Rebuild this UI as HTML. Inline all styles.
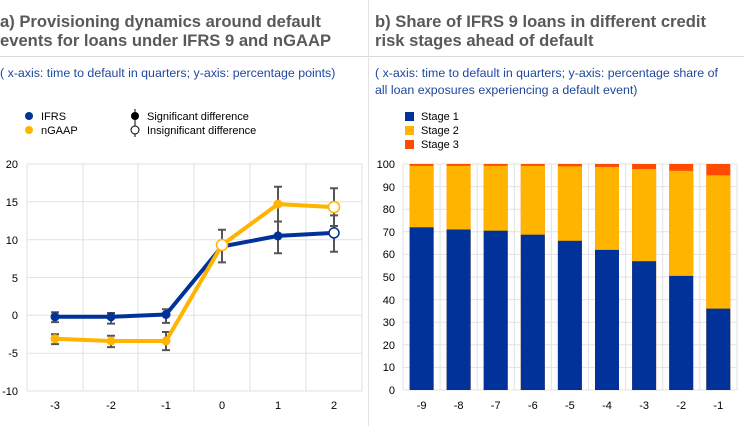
<!DOCTYPE html>
<html><head><meta charset="utf-8"><style>
html,body{margin:0;padding:0;background:#fff;width:744px;height:426px;overflow:hidden}
svg{display:block;font-family:"Liberation Sans",Arial,sans-serif}
</style></head><body>
<svg width="744" height="426" viewBox="0 0 744 426">
<text x="0" y="27" font-size="16.6" font-weight="bold" fill="#595959">a) Provisioning dynamics around default</text>
<text x="0" y="46" font-size="16.6" font-weight="bold" fill="#595959">events for loans under IFRS 9 and nGAAP</text>
<text x="375" y="27" font-size="16.6" font-weight="bold" fill="#595959">b) Share of IFRS 9 loans in different credit</text>
<text x="375" y="46" font-size="16.6" font-weight="bold" fill="#595959">risk stages ahead of default</text>
<line x1="0" y1="56.5" x2="744" y2="56.5" stroke="#d9d9d9"/>
<line x1="368.5" y1="0" x2="368.5" y2="426" stroke="#e3e3e3"/>
<text x="0" y="77" font-size="12.4" fill="#1f47a0">( x-axis: time to default in quarters; y-axis: percentage points)</text>
<text x="375" y="77" font-size="12.4" fill="#1f47a0">( x-axis: time to default in quarters; y-axis: percentage share of</text>
<text x="375" y="94" font-size="12.4" fill="#1f47a0">all loan exposures experiencing a default event)</text>
<!-- left legend -->
<circle cx="29" cy="116" r="4" fill="#003299"/><text x="41" y="120" font-size="11" fill="#000">IFRS</text>
<circle cx="29" cy="130" r="4" fill="#ffb400"/><text x="41" y="134" font-size="11" fill="#000">nGAAP</text>
<line x1="135" y1="109" x2="135" y2="123" stroke="#000"/><circle cx="135" cy="116" r="4" fill="#000"/>
<text x="147" y="120" font-size="11">Significant difference</text>
<line x1="135" y1="123" x2="135" y2="137" stroke="#000"/><circle cx="135" cy="130" r="4" fill="#fff" stroke="#000"/>
<text x="147" y="134" font-size="11">Insignificant difference</text>
<!-- right legend -->
<rect x="405" y="112" width="9" height="9" fill="#003299"/><text x="421" y="120" font-size="11">Stage 1</text>
<rect x="405" y="126" width="9" height="9" fill="#ffb400"/><text x="421" y="134" font-size="11">Stage 2</text>
<rect x="405" y="140" width="9" height="9" fill="#ff4b00"/><text x="421" y="148" font-size="11">Stage 3</text>
<!-- left grid -->
<g stroke="#e2e2e2" stroke-width="1">
<line x1="27" y1="164" x2="362" y2="164"/><line x1="27" y1="201.8" x2="362" y2="201.8"/><line x1="27" y1="239.7" x2="362" y2="239.7"/><line x1="27" y1="277.5" x2="362" y2="277.5"/><line x1="27" y1="315.3" x2="362" y2="315.3"/><line x1="27" y1="353.2" x2="362" y2="353.2"/><line x1="27" y1="391" x2="362" y2="391"/>
<line x1="27" y1="164" x2="27" y2="391"/><line x1="83" y1="164" x2="83" y2="391"/><line x1="138" y1="164" x2="138" y2="391"/><line x1="194" y1="164" x2="194" y2="391"/><line x1="250" y1="164" x2="250" y2="391"/><line x1="306" y1="164" x2="306" y2="391"/><line x1="362" y1="164" x2="362" y2="391"/>
</g>
<g font-size="11" text-anchor="end" fill="#000">
<text x="18" y="168">20</text><text x="18" y="206">15</text><text x="18" y="244">10</text><text x="18" y="282">5</text><text x="18" y="319">0</text><text x="18" y="357">-5</text><text x="18" y="395">-10</text>
</g>
<g font-size="11" text-anchor="middle">
<text x="55" y="409">-3</text><text x="111" y="409">-2</text><text x="166" y="409">-1</text><text x="222" y="409">0</text><text x="278" y="409">1</text><text x="334" y="409">2</text>
</g>
<!-- error bars -->
<g stroke="#555" stroke-width="2" fill="none">
<path d="M55 322.1V312.3M51 322.1h8M51 312.3h8"/>
<path d="M111 323.6V313M107 323.6h8M107 313h8"/>
<path d="M166 322.9V309.3M162 322.9h8M162 309.3h8"/>
<path d="M222 262.4V229.8M218 262.4h8M218 229.8h8"/>
<path d="M278 253.3V221.5M274 253.3h8M274 221.5h8"/>
<path d="M334 251.8V215.4M330 251.8h8M330 215.4h8"/>
<path d="M55 344.1V334.2M51 344.1h8M51 334.2h8"/>
<path d="M111 347.1V335.7M107 347.1h8M107 335.7h8"/>
<path d="M166 350.1V332M162 350.1h8M162 332h8"/>
<path d="M278 221.5V186.7M274 186.7h8"/>
<path d="M334 226V188.2M330 226h8M330 188.2h8"/>
</g>
<polyline points="55,316.8 111,316.8 166,314.5 222,246.5 278,235.9 334,232.9" fill="none" stroke="#003299" stroke-width="4" stroke-linejoin="round"/>
<polyline points="55,338.8 111,341 166,341 222,245 278,204.1 334,207.1" fill="none" stroke="#ffb400" stroke-width="4" stroke-linejoin="round"/>
<g fill="#003299"><circle cx="55" cy="316.8" r="4.5"/><circle cx="111" cy="316.8" r="4.5"/><circle cx="166" cy="314.5" r="4.5"/><circle cx="278" cy="235.9" r="4.5"/></g>
<circle cx="334" cy="232.9" r="5" fill="#fff" stroke="#003299" stroke-width="1.5"/>
<g fill="#ffb400"><circle cx="55" cy="338.8" r="4.5"/><circle cx="111" cy="341" r="4.5"/><circle cx="166" cy="341" r="4.5"/><circle cx="278" cy="204.1" r="4.5"/></g>
<circle cx="222" cy="245" r="5.5" fill="#fff" stroke="#ffb400" stroke-width="1.5"/>
<circle cx="334" cy="207.1" r="5.5" fill="#fff" stroke="#ffb400" stroke-width="1.5"/>
<!-- right grid -->
<g stroke="#e2e2e2">
<line x1="403" y1="164" x2="737" y2="164"/><line x1="403" y1="186.6" x2="737" y2="186.6"/><line x1="403" y1="209.2" x2="737" y2="209.2"/><line x1="403" y1="231.8" x2="737" y2="231.8"/><line x1="403" y1="254.4" x2="737" y2="254.4"/><line x1="403" y1="277" x2="737" y2="277"/><line x1="403" y1="299.6" x2="737" y2="299.6"/><line x1="403" y1="322.2" x2="737" y2="322.2"/><line x1="403" y1="344.8" x2="737" y2="344.8"/><line x1="403" y1="367.4" x2="737" y2="367.4"/><line x1="403" y1="390" x2="737" y2="390"/>
<line x1="403" y1="164" x2="403" y2="390"/><line x1="440.1" y1="164" x2="440.1" y2="390"/><line x1="477.2" y1="164" x2="477.2" y2="390"/><line x1="514.3" y1="164" x2="514.3" y2="390"/><line x1="551.4" y1="164" x2="551.4" y2="390"/><line x1="588.5" y1="164" x2="588.5" y2="390"/><line x1="625.6" y1="164" x2="625.6" y2="390"/><line x1="662.7" y1="164" x2="662.7" y2="390"/><line x1="699.8" y1="164" x2="699.8" y2="390"/><line x1="737" y1="164" x2="737" y2="390"/>
</g>
<g font-size="11" text-anchor="end">
<text x="395" y="168">100</text><text x="395" y="191">90</text><text x="395" y="213">80</text><text x="395" y="236">70</text><text x="395" y="258">60</text><text x="395" y="281">50</text><text x="395" y="304">40</text><text x="395" y="326">30</text><text x="395" y="349">20</text><text x="395" y="371">10</text><text x="395" y="394">0</text>
</g>
<g font-size="11" text-anchor="middle">
<text x="421.6" y="409">-9</text><text x="458.6" y="409">-8</text><text x="495.7" y="409">-7</text><text x="532.8" y="409">-6</text><text x="569.9" y="409">-5</text><text x="607" y="409">-4</text><text x="644.1" y="409">-3</text><text x="681.2" y="409">-2</text><text x="718.3" y="409">-1</text>
</g>
<g>
<rect x="409.6" y="164" width="24" height="226" fill="#ff4b00"/><rect x="409.6" y="165.8" width="24" height="224.2" fill="#ffb400"/><rect x="409.6" y="227.3" width="24" height="162.7" fill="#003299"/>
<rect x="446.6" y="164" width="24" height="226" fill="#ff4b00"/><rect x="446.6" y="165.8" width="24" height="224.2" fill="#ffb400"/><rect x="446.6" y="229.5" width="24" height="160.5" fill="#003299"/>
<rect x="483.7" y="164" width="24" height="226" fill="#ff4b00"/><rect x="483.7" y="165.8" width="24" height="224.2" fill="#ffb400"/><rect x="483.7" y="230.7" width="24" height="159.3" fill="#003299"/>
<rect x="520.8" y="164" width="24" height="226" fill="#ff4b00"/><rect x="520.8" y="165.8" width="24" height="224.2" fill="#ffb400"/><rect x="520.8" y="234.7" width="24" height="155.3" fill="#003299"/>
<rect x="557.9" y="164" width="24" height="226" fill="#ff4b00"/><rect x="557.9" y="166.3" width="24" height="223.7" fill="#ffb400"/><rect x="557.9" y="240.8" width="24" height="149.2" fill="#003299"/>
<rect x="595" y="164" width="24" height="226" fill="#ff4b00"/><rect x="595" y="166.9" width="24" height="223.1" fill="#ffb400"/><rect x="595" y="249.9" width="24" height="140.1" fill="#003299"/>
<rect x="632.1" y="164" width="24" height="226" fill="#ff4b00"/><rect x="632.1" y="169" width="24" height="221" fill="#ffb400"/><rect x="632.1" y="261.2" width="24" height="128.8" fill="#003299"/>
<rect x="669.2" y="164" width="24" height="226" fill="#ff4b00"/><rect x="669.2" y="170.8" width="24" height="219.2" fill="#ffb400"/><rect x="669.2" y="275.9" width="24" height="114.1" fill="#003299"/>
<rect x="706.3" y="164" width="24" height="226" fill="#ff4b00"/><rect x="706.3" y="175.3" width="24" height="214.7" fill="#ffb400"/><rect x="706.3" y="308.6" width="24" height="81.4" fill="#003299"/>
</g>
</svg>
</body></html>
